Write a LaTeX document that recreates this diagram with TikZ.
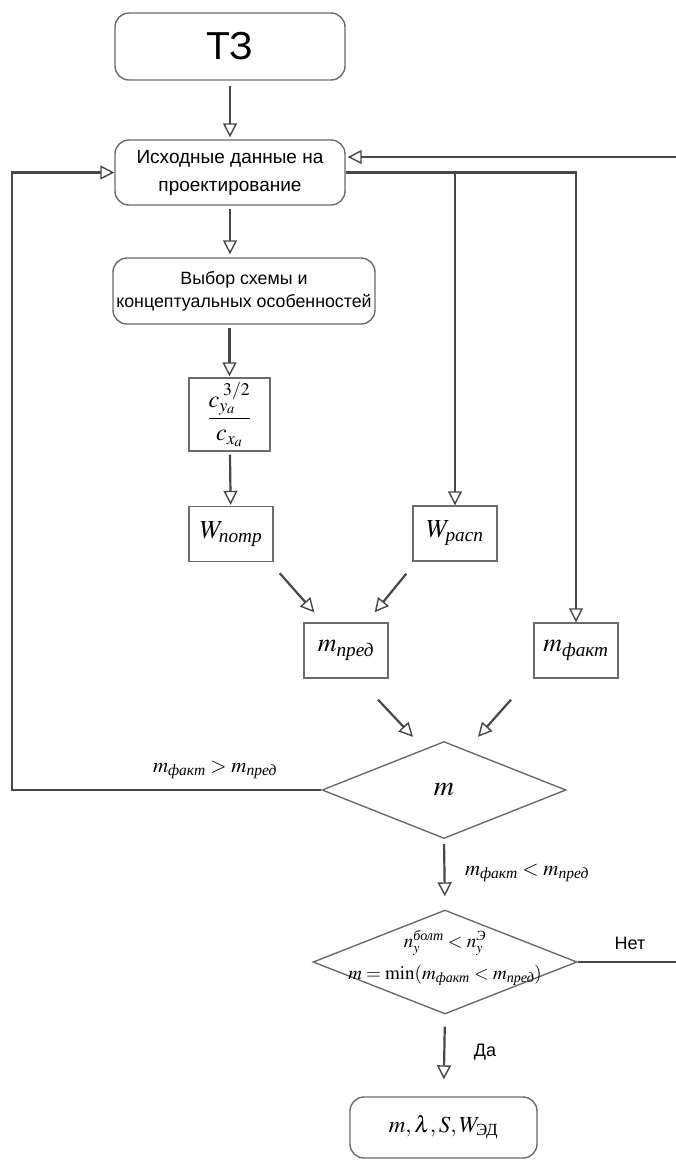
\documentclass[tikz,border=0pt]{standalone}
\usepackage{amsmath}
\usepackage{mathptmx}
\usepackage[no-math]{fontspec}
\setmainfont{Liberation Sans}
\newfontfamily\tms{Liberation Serif}
\usepackage{tikz}
\usetikzlibrary{arrows.meta}
\usetikzlibrary{shapes.geometric, calc}
\definecolor{trait}{rgb}{0.28, 0.28, 0.28}
\definecolor{cadre}{rgb}{0.42, 0.42, 0.42}
\newcommand{\ru}[1]{\text{\tms\itshape #1}}

\tikzset{
  rbox/.style={draw=cadre, line width=1.4pt, rounded corners=14pt, inner sep=0pt, align=center},
  sbox/.style={draw=cadre, line width=1.4pt, inner sep=0pt, minimum width=84pt, minimum height=55pt, font=\fontsize{26}{30}\selectfont},
  dia/.style={draw=cadre, line width=1.4pt, diamond, inner sep=0pt},
  ligne/.style={draw=trait, line width=2.2pt},
  fl/.style={ligne, -{Triangle[open, length=14pt, width=14pt, line width=1.4pt]}},
}

\begin{document}
\begin{tikzpicture}[x=1pt, y=-1pt]
    % Cadre de la page
    \useasboundingbox (0,0) rectangle (676,1160);

    % Blocs du haut
    \node[rbox, minimum width=230pt, minimum height=67pt, font=\fontsize{39}{44}\selectfont] (tz) at (230,46.5) {ТЗ};
    \node[rbox, minimum width=230pt, minimum height=65pt, font=\fontsize{19}{28}\selectfont] (ish) at (230,172.5) {Исходные данные на\\проектирование};
    \node[rbox, minimum width=262pt, minimum height=66pt, font=\fontsize{17.8}{23}\selectfont] (vybor) at (244,291) {Выбор схемы и\\концептуальных особенностей};

    % Blocs rectangulaires
    \node[sbox, minimum width=81pt, minimum height=73pt, font=\fontsize{24}{28}\selectfont] (cbox) at (229.5,414.5) {$\dfrac{c_{y_a}^{\;3/2}}{c_{x_a}}$};
    \node[sbox] (potr) at (231,534) {$W_{\ru{потр}}$};
    \node[sbox] (rasp) at (455,533.5) {$W_{\ru{расп}}$};
    \node[sbox] (pred) at (346,650.5) {$m_{\ru{пред}}$};
    \node[sbox] (fakt) at (576,650.5) {$m_{\ru{факт}}$};

    % Losanges
    \node[dia, minimum width=244pt, minimum height=97pt] (dm) at (444,790) {};
    \node[font=\fontsize{28}{32}\selectfont] (dmt) at (dm) {$m$};
    \node[dia, minimum width=264pt, minimum height=104pt] (d2) at (445,962) {};
    \node[font=\fontsize{19}{32}\selectfont, align=center] (d2t) at (445,958) {$n_y^{\ru{болт}} < n_y^{\ru{Э}}$\\$m = \min(m_{\ru{факт}} < m_{\ru{пред}})$};

    % Resultat
    \node[rbox, minimum width=187pt, minimum height=61pt, font=\fontsize{23}{27}\selectfont] (res) at (443.5,1127.5) {$m, \lambda, S, W_{\text{\tms ЭД}}$};

    % Fleches verticales
    \draw[fl, shorten <=5pt, shorten >=2pt] (tz) -- (ish);
    \draw[fl, shorten <=3pt, shorten >=3pt] (ish.south) -- (ish.south |- vybor.north);
    \draw[fl, shorten <=3pt, shorten >=1pt] (cbox.north |- vybor.south) -- (cbox.north);
    \draw[fl, shorten <=3pt, shorten >=1pt] (cbox) -- (potr);
    \draw[fl, shorten <=5pt, shorten >=13pt] (dm.south) -- (d2.north);
    \draw[fl, shorten <=12pt, shorten >=17pt] (d2.south) -- (res.north);

    % Branches vers la droite
    \draw[fl] (ish.east) -| (fakt.north);
    \draw[fl] (rasp.north |- ish.east) -- (rasp.north);

    % Fleches obliques
    \draw[fl] ([shift={(6,11)}]potr.south east) -- ([shift={(11,-10)}]pred.north west);
    \draw[fl] ([shift={(-6,12)}]rasp.south west) -- ([shift={(-14,-10)}]pred.north east);
    \draw[fl] ([shift={(32,21)}]pred.south) -- ([shift={(-31,-4)}]dm.north);
    \draw[fl] ([shift={(-65,21)}]fakt.south) -- ([shift={(34,-4)}]dm.north);

    % Retours
    \coordinate (lf) at (12,0);
    \coordinate (rr) at (676,157);
    \coordinate (rn) at (676,962);
    \draw[fl, line join=miter] (dm.west) -- (lf |- dm.west) -- (lf |- ish.west) -- (ish.west);
    \draw[fl, shorten >=2pt] (rr) -- (ish.east |- rr);
    \draw[ligne] (d2.east) -- (rn);

    % Etiquettes
    \node[font=\fontsize{21}{24}\selectfont] (lbl1) at (215,770) {$m_{\ru{факт}} > m_{\ru{пред}}$};
    \node[font=\fontsize{21}{24}\selectfont] (lbl2) at (527,873) {$m_{\ru{факт}} < m_{\ru{пред}}$};
    \node[font=\fontsize{18}{22}\selectfont] (net) at (630,943) {Нет};
    \node[font=\fontsize{18}{22}\selectfont] (da) at (485,1052) {Да};
\end{tikzpicture}
\end{document}
